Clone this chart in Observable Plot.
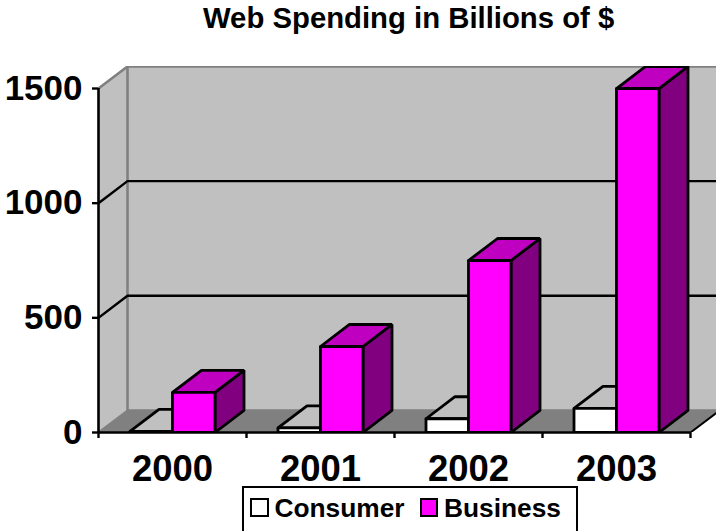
<!DOCTYPE html>
<html>
<head>
<meta charset="utf-8">
<script src="https://cdn.jsdelivr.net/npm/d3@7"></script>
<script src="https://cdn.jsdelivr.net/npm/@observablehq/plot@0.6"></script>
<style>
  html, body { margin: 0; padding: 0; background: #fff; overflow: hidden; }
  body { width: 716px; height: 531px; position: relative; font-family: "Liberation Sans", Arial, sans-serif; font-weight: bold; color: #000; }
  #title { height: 46px; box-sizing: border-box; padding-top: 3px; padding-left: 203px; font-size: 29.3px; line-height: 30px; white-space: nowrap; }
  #legend { position: absolute; left: 242px; top: 486px; width: 336px; height: 45px; box-sizing: border-box; border: 2px solid #000; border-bottom: 0; display: flex; align-items: flex-start; padding: 8px 0 0 6px; font-size: 26.3px; line-height: 25px; background: #fff; }
  #legend i { display: inline-block; width: 15px; height: 15px; border: 2.5px solid #000; margin: 2px 6px 0 0; }
  #legend span { margin-right: 15px; }
  svg { display: block; }
</style>
</head>
<body>
<div id="title">Web Spending in Billions of $</div>
<div id="chart"></div>
<div id="legend"></div>
<script>
// Web spending per year, in billions of dollars
const years = ["2000", "2001", "2002", "2003"];
const consumer = [5, 20, 60, 105];
const business = [175, 375, 750, 1500];
const seriesNames = ["Consumer", "Business"];
const valueTicks = [0, 500, 1000, 1500];

// Colours of the faces
const wallFill = "#c0c0c0", floorFill = "#808080";
const consumerFaces = {front: "#ffffff", top: "#c0c0c0", side: "#c0c0c0"};
const businessFaces = {front: "#ff00ff", top: "#c000c0", side: "#800080"};

// Oblique projection of the depth axis, in data units
const depthX = 29 / 148;
const depthY = 96;
const barWidth = 42.5 / 148;
const barStart = 31.5 / 148;
const xMax = 618 / 148;
const yMax = 1500 + depthY;

const poly = (points, fill, stroke = "#000", strokeWidth = 2.4) =>
  Plot.line(points, {x: "0", y: "1", fill, stroke, strokeWidth, strokeLinejoin: "miter", clip: true, curve: "linear"});

const face = (pts) => [...pts, pts[0]];

function barMarks(i, slot, value, c) {
  const x0 = i + barStart + slot * barWidth, x1 = x0 + barWidth;
  return [
    poly(face([[x1, 0], [x1 + depthX, depthY], [x1 + depthX, value + depthY], [x1, value]]), c.side, "#000", 2.8),
    poly(face([[x0, value], [x0 + depthX, value + depthY], [x1 + depthX, value + depthY], [x1, value]]), c.top, "#000", 2.8),
    poly(face([[x0, 0], [x1, 0], [x1, value], [x0, value]]), c.front, "#000", 2.8)
  ];
}

const bars = years.flatMap((_, i) => [
  ...barMarks(i, 0, consumer[i], consumerFaces),
  ...barMarks(i, 1, business[i], businessFaces)
]);

const plot = Plot.plot({
  width: 716,
  height: 485,
  marginLeft: 98,
  marginRight: 0,
  marginTop: 20,
  marginBottom: 99,
  x: {domain: [0, xMax], axis: null},
  y: {domain: [0, yMax], axis: null},
  marks: [
    // Back wall, side wall and floor
    poly(face([[depthX, depthY], [xMax + 1, depthY], [xMax + 1, yMax], [depthX, yMax]]), wallFill, "none"),
    poly(face([[0, 0], [depthX, depthY], [depthX, yMax], [0, 1500]]), wallFill, "none"),
    poly(face([[0, 0], [4, 0], [4 + depthX, depthY], [depthX, depthY]]), floorFill, "none"),
    poly([[0, 1500], [depthX, yMax], [xMax + 1, yMax]], "none", floorFill, 2.6),
    poly([[depthX, yMax], [depthX, depthY], [xMax + 1, depthY]], "none", floorFill, 2.6),
    poly([[0, 0], [depthX, depthY]], "none", floorFill, 2),
    // Gridlines along the side wall and the back wall
    ...[500, 1000].map((v) => poly([[0, v], [depthX, v + depthY], [xMax + 1, v + depthY]], "none", "#000", 2.4)),
    poly([[4, 0], [4 + depthX, depthY]], "none", "#000", 2),
    ...bars,
    // Axes
    Plot.ruleX([0], {y1: 0, y2: 1500, stroke: "#000", strokeWidth: 2.6}),
    Plot.ruleY([0], {x1: 0, x2: 4, stroke: "#000", strokeWidth: 2.6}),
    Plot.axisY({ticks: valueTicks, tickSize: 6, tickPadding: 10, tickFormat: String, fontSize: 35, fontWeight: "bold", label: null, stroke: "#000", strokeWidth: 2.4, fontFamily: "Liberation Sans"}),
    Plot.axisX({ticks: d3.range(0, 5), tickSize: 6, tickFormat: () => "", label: null, stroke: "#000", strokeWidth: 2.4}),
    Plot.text(years, {x: (_, i) => i + 0.5, y: 0, text: (d) => d, dy: 36.5, fontSize: 36.5, fontWeight: "bold", fill: "#000", fontFamily: "Liberation Sans"})
  ]
});
document.getElementById("chart").append(plot);

// Legend box under the chart
const legendColors = [consumerFaces.front, businessFaces.front];
document.getElementById("legend").innerHTML = seriesNames
  .map((name, i) => `<i style="background:${legendColors[i]}"></i><span>${name}</span>`)
  .join("");
</script>
</body>
</html>
